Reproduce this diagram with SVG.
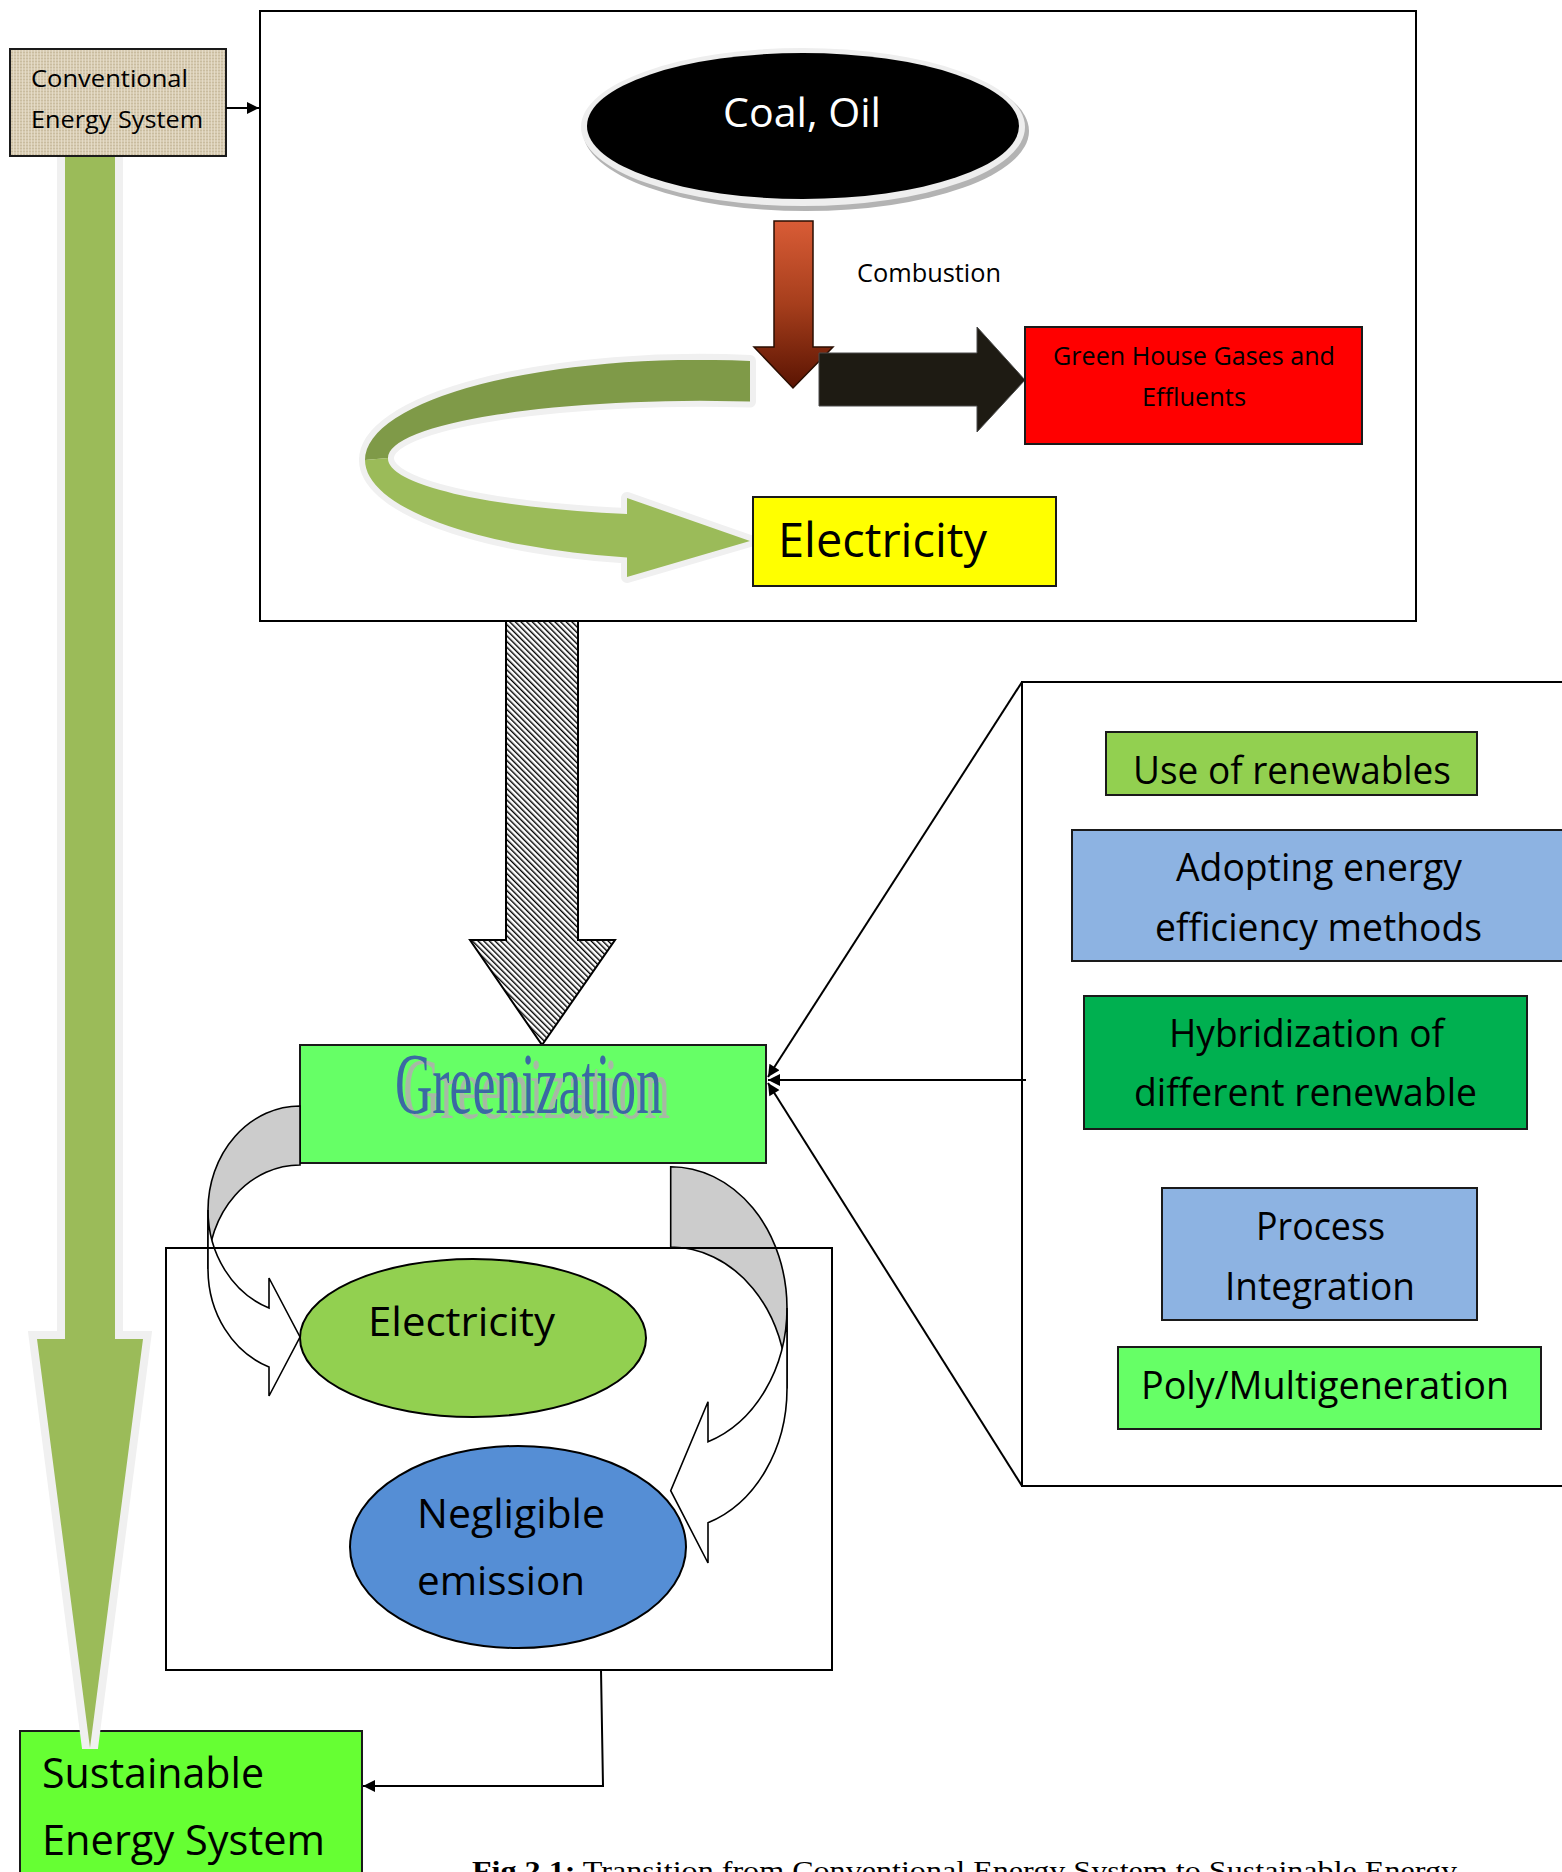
<svg xmlns="http://www.w3.org/2000/svg" xmlns:xlink="http://www.w3.org/1999/xlink" width="1562" height="1872" viewBox="0 0 1562 1872">
  <style>
    .sans { font-family: "Open Sans", "Noto Sans", "Liberation Sans", sans-serif; fill: #000; }
    .serif { font-family: "Liberation Serif", "DejaVu Serif", serif; }
    .frame { fill: none; stroke: #000; stroke-width: 2; }
    .box { stroke: #1a1a1a; stroke-width: 2; }
    .conn { fill: none; stroke: #000; stroke-width: 2; }
    .curl { stroke: #000; stroke-width: 1.6; stroke-linejoin: miter; }
  </style>
  <defs>
    <pattern id="burlap" width="6" height="6" patternUnits="userSpaceOnUse">
      <rect width="6" height="6" fill="#d8ccb3"/>
      <path d="M0 1.5H6M0 4.5H6" stroke="#c5b799" stroke-width="0.8"/>
      <path d="M1.5 0V6M4.5 0V6" stroke="#e7decb" stroke-width="0.8"/>
    </pattern>
    <pattern id="hatch" width="4" height="4" patternUnits="userSpaceOnUse" patternTransform="rotate(-45)">
      <rect width="4" height="4" fill="#fff"/>
      <rect x="0" y="0" width="1.4" height="4" fill="#000"/>
    </pattern>
    <linearGradient id="ember" x1="0" y1="0" x2="0" y2="1">
      <stop offset="0" stop-color="#d95c36"/>
      <stop offset="0.5" stop-color="#a63e1c"/>
      <stop offset="1" stop-color="#5a1402"/>
    </linearGradient>
    <!-- soft grey drop shadow behind the Greenization word-art -->
    <filter id="wordShadow" x="-10%" y="-20%" width="130%" height="150%">
      <feOffset in="SourceAlpha" dx="8" dy="5" result="off"/>
      <feFlood flood-color="#a7b8a5"/>
      <feComposite in2="off" operator="in" result="shadow"/>
      <feMerge>
        <feMergeNode in="shadow"/>
        <feMergeNode in="SourceGraphic"/>
      </feMerge>
    </filter>
    <marker id="arrow" viewBox="0 0 10 10" refX="10" refY="5" markerWidth="7" markerHeight="6" orient="auto" markerUnits="strokeWidth">
      <path d="M0,0 L10,5 L0,10 z" fill="#000"/>
    </marker>
    <!-- ribbon arrow that loops from the combustion stage back to electricity -->
    <path id="bandBack" d="M750,361 A335,100 0 0 0 365,460 L388,458 A312,57 0 0 1 750,401.6 Z"/>
    <path id="bandFront" d="M365,460 A335,100 0 0 0 627,557.6 L627,577 L750,541 L627,498 L627,514 A312,57 0 0 1 388,458 Z"/>
    <!-- long transition arrow on the left -->
    <path id="bigArrow" d="M65,157 H115 V1339 H143 L90,1748 L37,1339 H65 Z"/>
  </defs>

  <!-- outer frame of the conventional system -->
  <rect id="conventional-frame" class="frame" x="260" y="11" width="1156" height="610"/>

  <!-- sustainable energy system -->
  <g id="sustainable">
    <rect class="box" x="20" y="1731" width="342" height="170" fill="#66ff33"/>
    <text class="sans" font-size="42" x="42" y="1788" textLength="222" lengthAdjust="spacingAndGlyphs">Sustainable</text>
    <text class="sans" font-size="42" x="42" y="1855" textLength="283" lengthAdjust="spacingAndGlyphs">Energy System</text>
  </g>

  <!-- long green transition arrow -->
  <g id="transition-arrow">
    <use xlink:href="#bigArrow" transform="translate(4,3)" fill="#a5ae94"/>
    <use xlink:href="#bigArrow" fill="#9bbb59" stroke="#f0f0f0" stroke-width="16" paint-order="stroke"/>
  </g>

  <!-- conventional energy system -->
  <g id="conventional">
    <rect class="box" x="10" y="49" width="216" height="107" fill="url(#burlap)"/>
    <text class="sans" font-size="24" x="31" y="87" textLength="157" lengthAdjust="spacingAndGlyphs">Conventional</text>
    <text class="sans" font-size="24" x="31" y="128" textLength="172" lengthAdjust="spacingAndGlyphs">Energy System</text>
  </g>

  <!-- fossil fuel source -->
  <g id="coal-oil">
    <ellipse cx="806" cy="131" rx="223" ry="80" fill="#b3b3b3"/>
    <ellipse cx="803" cy="127" rx="222" ry="79" fill="#eeeeee"/>
    <ellipse cx="803" cy="126" rx="216" ry="73" fill="#000"/>
    <text class="sans" font-size="40" x="723" y="127" textLength="158" lengthAdjust="spacingAndGlyphs" style="fill:#fff">Coal, Oil</text>
  </g>

  <!-- combustion step -->
  <g id="combustion">
    <polygon points="774,221 813,221 813,347 833,347 793,388 754,347 774,347" fill="url(#ember)" stroke="#2a0e02" stroke-width="1.5"/>
    <text class="sans" font-size="25" x="857" y="282" textLength="144" lengthAdjust="spacingAndGlyphs">Combustion</text>
  </g>

  <!-- emissions branch -->
  <g id="emissions-arrow">
    <polygon points="819,353 977,353 977,327 1025,380 977,432 977,406 819,406" fill="#1e1b13" stroke="#4a4a4a" stroke-width="1"/>
  </g>
  <g id="ghg">
    <rect class="box" x="1025" y="327" width="337" height="117" fill="#ff0000"/>
    <text class="sans" font-size="25" x="1053" y="365" textLength="282" lengthAdjust="spacingAndGlyphs">Green House Gases and</text>
    <text class="sans" font-size="25" x="1142" y="406" textLength="104" lengthAdjust="spacingAndGlyphs">Effluents</text>
  </g>

  <!-- looping ribbon arrow to electricity -->
  <g id="loop-arrow">
    <use xlink:href="#bandBack" transform="translate(3,4)" fill="#a9b293"/>
    <use xlink:href="#bandFront" transform="translate(3,4)" fill="#a9b293"/>
    <use xlink:href="#bandBack" fill="#f0f0f0" stroke="#f0f0f0" stroke-width="12" stroke-linejoin="round"/>
    <use xlink:href="#bandFront" fill="#f0f0f0" stroke="#f0f0f0" stroke-width="12" stroke-linejoin="round"/>
    <use xlink:href="#bandBack" fill="#7f9a48"/>
    <use xlink:href="#bandFront" fill="#9bbb59"/>
  </g>

  <g id="electricity-conventional">
    <rect class="box" x="753" y="497" width="303" height="89" fill="#ffff00"/>
    <text class="sans" font-size="47" x="778" y="557" textLength="209" lengthAdjust="spacingAndGlyphs">Electricity</text>
  </g>

  <!-- hatched arrow into greenization -->
  <g id="shift-arrow">
    <polygon points="506,621 578,621 578,940 615,940 542,1045 470,940 506,940" fill="url(#hatch)" stroke="#000" stroke-width="2"/>
  </g>

  <g id="greenization">
    <rect class="box" x="300" y="1045" width="466" height="118" fill="#66ff66"/>
    <text class="serif" font-size="86" x="395" y="1113" textLength="267" lengthAdjust="spacingAndGlyphs" fill="#3b69a3" filter="url(#wordShadow)">Greenization</text>
  </g>

  <!-- measures panel -->
  <g id="measures-panel">
    <path class="frame" d="M1563,682 H1022 V1486 H1563"/>
  </g>
  <g id="renewables">
    <rect class="box" x="1106" y="732" width="371" height="63" fill="#92d050"/>
    <text class="sans" font-size="38" x="1133" y="784" textLength="318" lengthAdjust="spacingAndGlyphs">Use of renewables</text>
  </g>
  <g id="efficiency">
    <rect class="box" x="1072" y="830" width="500" height="131" fill="#8db3e2"/>
    <text class="sans" font-size="38" x="1176" y="881" textLength="286" lengthAdjust="spacingAndGlyphs">Adopting energy</text>
    <text class="sans" font-size="38" x="1155" y="941" textLength="327" lengthAdjust="spacingAndGlyphs">efficiency methods</text>
  </g>
  <g id="hybridization">
    <rect class="box" x="1084" y="996" width="443" height="133" fill="#00b050"/>
    <text class="sans" font-size="38" x="1169" y="1047" textLength="275" lengthAdjust="spacingAndGlyphs">Hybridization of</text>
    <text class="sans" font-size="38" x="1134" y="1106" textLength="343" lengthAdjust="spacingAndGlyphs">different renewable</text>
  </g>
  <g id="process-integration">
    <rect class="box" x="1162" y="1188" width="315" height="132" fill="#8db3e2"/>
    <text class="sans" font-size="38" x="1256" y="1240" textLength="129" lengthAdjust="spacingAndGlyphs">Process</text>
    <text class="sans" font-size="38" x="1225" y="1300" textLength="190" lengthAdjust="spacingAndGlyphs">Integration</text>
  </g>
  <g id="polygeneration">
    <rect class="box" x="1118" y="1347" width="423" height="82" fill="#66ff66"/>
    <text class="sans" font-size="38" x="1141" y="1399" textLength="368" lengthAdjust="spacingAndGlyphs">Poly/Multigeneration</text>
  </g>

  <!-- curved arrows from greenization to its outcomes -->
  <g id="curl-left">
    <path class="curl" fill="#cccccc" d="M300,1106 A92,104 0 0 0 208,1210 L208,1269 A92,104 0 0 1 300,1165 Z"/>
    <path class="curl" fill="#ffffff" d="M208,1210 A92,104 0 0 0 269,1308 L269,1278 L300,1337 L269,1396 L269,1367 A92,104 0 0 1 208,1269 Z"/>
  </g>
  <g id="curl-right">
    <path class="curl" fill="#cccccc" d="M670.7,1166.7 A116.3,141.4 0 0 1 787,1308 L787,1388.4 A116.3,141.4 0 0 0 670.7,1247 Z"/>
    <path class="curl" fill="#ffffff" d="M787,1308 A116.3,141.4 0 0 1 708,1441.7 L708,1401.7 L670.7,1490.7 L708,1563 L708,1522.7 A116.3,141.4 0 0 0 787,1388.4 Z"/>
  </g>

  <g id="electricity-green">
    <ellipse cx="473" cy="1338" rx="173" ry="79" fill="#92d050" stroke="#000" stroke-width="2"/>
    <text class="sans" font-size="41" x="368" y="1336" textLength="187" lengthAdjust="spacingAndGlyphs">Electricity</text>
  </g>
  <g id="negligible-emission">
    <ellipse cx="518" cy="1547" rx="168" ry="101" fill="#558ed5" stroke="#000" stroke-width="2"/>
    <text class="sans" font-size="40" x="417" y="1528" textLength="188" lengthAdjust="spacingAndGlyphs">Negligible</text>
    <text class="sans" font-size="40" x="417" y="1595" textLength="168" lengthAdjust="spacingAndGlyphs">emission</text>
  </g>

  <!-- frame of the greenized system -->
  <rect id="green-frame" class="frame" x="166" y="1248" width="666" height="422"/>

  <!-- connectors -->
  <g id="connectors">
    <path class="conn" d="M226,108 H259" marker-end="url(#arrow)"/>
    <path class="conn" d="M1022,682 L768,1077" marker-end="url(#arrow)"/>
    <path class="conn" d="M1026,1080 H768" marker-end="url(#arrow)"/>
    <path class="conn" d="M1022,1486 L768,1083" marker-end="url(#arrow)"/>
    <path class="conn" d="M601,1670 L603,1786 H363" marker-end="url(#arrow)"/>
  </g>

  <!-- caption -->
  <text class="serif" font-size="28" x="472" y="1880" textLength="985" lengthAdjust="spacingAndGlyphs" fill="#000"><tspan font-weight="bold">Fig.2.1:</tspan> Transition from Conventional Energy System to Sustainable Energy</text>
</svg>
